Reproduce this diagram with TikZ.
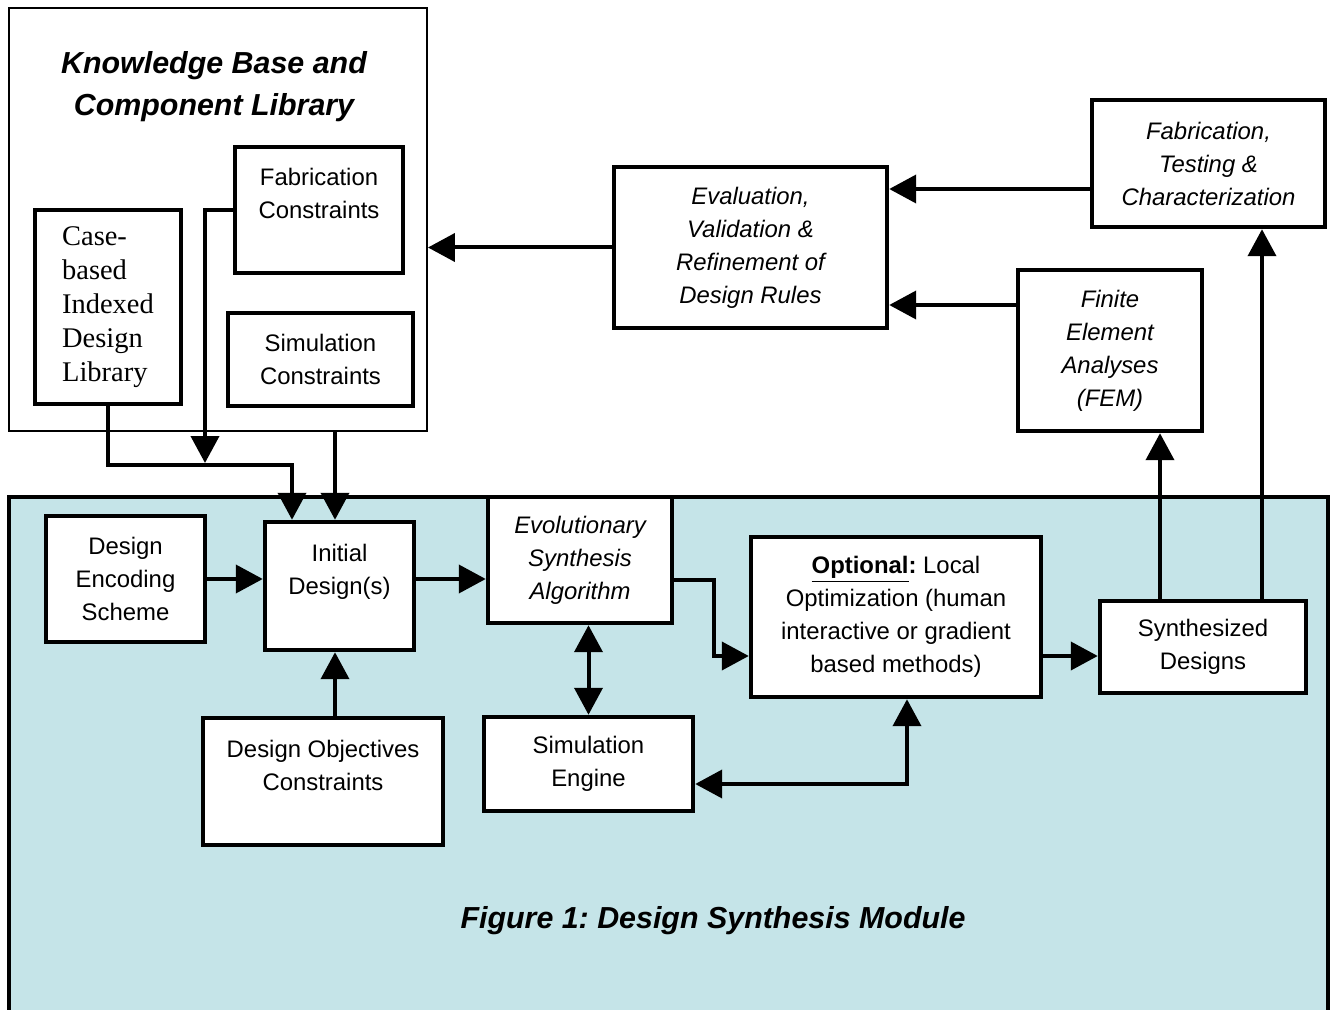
\documentclass[tikz,border=0pt]{standalone}
\usepackage{fontspec}
\setmainfont{Liberation Sans}
\newfontfamily\libserif{Liberation Serif}
\usetikzlibrary{arrows.meta,positioning,calc}
\definecolor{synbg}{RGB}{197,228,232}
\frenchspacing

\begin{document}
\begin{tikzpicture}[x=0.02cm, y=-0.02cm,
  box/.style={draw, line width=0.09cm, fill=white, align=center, inner sep=1pt, font=\fontsize{13.6}{18.8}\selectfont},
  ibox/.style={box, font=\fontsize{13.6}{18.8}\selectfont\itshape},
  arr/.style={-{Triangle[length=0.54cm,width=0.56cm]}, line width=0.08cm},
  dblarr/.style={{Triangle[length=0.54cm,width=0.56cm]}-{Triangle[length=0.54cm,width=0.56cm]}, line width=0.08cm},
  heading/.style={align=center, font=\fontsize{17.3}{23.8}\selectfont\bfseries\itshape},
]
\useasboundingbox (0,0) rectangle (1330,1010);

% synthesis module (lower region)
\fill[synbg] (9,497) rectangle (1328,1010);
\draw[line width=0.1cm] (9,1010) -- (9,497) -- (1328,497) -- (1328,1010);

% knowledge base
\node[draw, line width=0.04cm, minimum width=8.36cm, minimum height=8.46cm] (kb) at (218,219.5) {};
\node[heading] (kbtitle) at (214,87) {Knowledge Base and\\Component Library};
\node[box, minimum width=3.36cm, minimum height=2.52cm] (fabc) at (319,210) {Fabrication\\Constraints\\\mbox{}};
\node[box, minimum width=2.92cm, minimum height=3.88cm, align=left, font=\fontsize{16.2}{19.3}\libserif] (cbl) at (108,307) {Case-\\based\\Indexed\\Design\\Library};
\node[box, minimum width=3.70cm, minimum height=1.86cm] (simc) at (320.5,359.5) {Simulation\\Constraints};

% evaluation loop
\node[ibox, minimum width=5.46cm, minimum height=3.22cm] (eval) at (750.5,247.5) {Evaluation,\\Validation \&\\Refinement of\\Design Rules};
\node[ibox, minimum width=4.66cm, minimum height=2.54cm] (fabt) at (1208.5,163.5) {Fabrication,\\Testing \&\\Characterization};
\node[ibox, minimum width=3.68cm, minimum height=3.22cm] (fem) at (1110,350.5) {Finite\\Element\\Analyses\\(FEM)};

% synthesis blocks
\node[box, minimum width=3.18cm, minimum height=2.52cm] (des) at (125.5,579) {Design\\Encoding\\Scheme};
\node[box, minimum width=2.98cm, minimum height=2.56cm] (init) at (339.5,586) {Initial\\Design(s)\\\mbox{}};
\node[ibox, minimum width=3.68cm, minimum height=2.52cm] (evo) at (580,560) {Evolutionary\\Synthesis\\Algorithm};
\node[box, minimum width=5.80cm, minimum height=3.20cm] (opt) at (896,617) {\underline{\textbf{Optional}}\textbf{:} Local\\Optimization (human\\interactive or gradient\\based methods)};
\node[box, minimum width=4.12cm, minimum height=1.84cm] (syn) at (1203,647) {Synthesized\\Designs};
\node[box, minimum width=4.80cm, minimum height=2.54cm] (doc) at (323,781.5) {Design Objectives\\Constraints\\\mbox{}};
\node[box, minimum width=4.18cm, minimum height=1.88cm] (sim) at (588.5,764) {Simulation\\Engine};
\node[heading] (caption) at (713,921) {Figure 1: Design Synthesis Module};

% routing points
\coordinate (merge) at (292,465);
\coordinate (fabdrop) at (205,463);
\coordinate (initx) at (335,0);
\coordinate (bend) at (714,656);
\coordinate (loop) at (907,784);
\coordinate (femup) at (1160,0);
\coordinate (fabup) at (1262,0);
\coordinate (row1) at (0,189);
\coordinate (row2) at (0,305);

% connectors
\draw[arr] (cbl.south) |- (merge) -- (merge |- init.north);
\draw[arr] (fabc.west) -| (fabdrop);
\draw[arr] (kb.south -| initx) -- (init.north -| initx);
\draw[arr] (des.east) -- (des.east -| init.west);
\draw[arr] (des.east -| init.east) -- (des.east -| evo.west);
\draw[arr] (doc.north -| initx) -- (init.south -| initx);
\draw[arr] ($(evo.east)+(0,20)$) -| (bend) -- (bend -| opt.west);
\draw[dblarr] (evo.south -| sim.north) -- (sim.north);
\draw[dblarr] (loop |- opt.south) -- (loop) -- (loop -| sim.east);
\draw[arr] (bend -| opt.east) -- (bend -| syn.west);
\draw[arr] (syn.north -| femup) -- (fem.south -| femup);
\draw[arr] (syn.north -| fabup) -- (fabt.south -| fabup);
\draw[arr] (fabt.west |- row1) -- (eval.east |- row1);
\draw[arr] (fem.west |- row2) -- (eval.east |- row2);
\draw[arr] (eval.west) -- (eval.west -| kb.east);
\end{tikzpicture}
\end{document}
